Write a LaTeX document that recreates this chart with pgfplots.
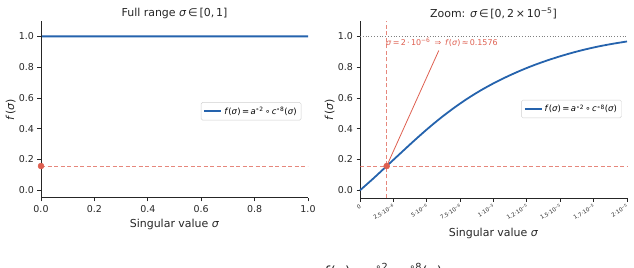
\documentclass[border=0pt]{standalone}
\usepackage{fontspec}
\setmainfont{DejaVu Sans}
\usepackage{pgfplots}
\pgfplotsset{compat=1.18}

\definecolor{curveblue}{RGB}{37,99,173}
\definecolor{markred}{RGB}{222,95,80}
\definecolor{spine}{RGB}{38,38,38}

\newcommand{\sig}{\textit{σ}}
\newcommand{\fsig}{\textit{f}(\sig)}
\newcommand{\comp}{\fsig\,=\,\textit{a}\textsuperscript{∘2}\,∘\,\textit{c}\textsuperscript{∘8}(\sig)}

% shared look of both panels
\pgfplotsset{
  panel/.style={
    scale only axis, width=267bp, height=177bp,
    axis lines=left, axis line style={-, spine, line width=0.8bp},
    tick align=outside, major tick length=3.5bp,
    tick style={spine, line width=0.8bp},
    ymin=-0.05, ymax=1.1, ytick={0,0.2,0.4,0.6,0.8,1.0},
    /pgf/number format/assume math mode=true,
    ticklabel style={font=\fontsize{9.5}{11}\selectfont, text=spine},
    yticklabel style={/pgf/number format/.cd, fixed, fixed zerofill, precision=1},
    label style={font=\fontsize{11}{13}\selectfont, text=spine},
    ylabel style={yshift=-3.5bp},
    title style={font=\fontsize{11}{13}\selectfont, text=spine, yshift=-7bp},
    ylabel={\fsig},
    xlabel={Singular value \sig},
    legend style={draw=black!18, rounded corners=1.5pt,
      font=\fontsize{8.5}{10}\selectfont, anchor=east, inner sep=2.5pt},
    legend cell align=left,
  },
  curve/.style={curveblue, line width=1.8bp},
  guide/.style={markred, opacity=0.75, dash pattern=on 4bp off 2.5bp, line width=1bp, forget plot},
  unity/.style={gray, dotted, line width=0.8bp, forget plot},
  hit/.style={only marks, mark=*, mark size=3bp, markred,
    mark options={draw=markred, fill=markred}, forget plot},
}

\begin{document}
\begin{tikzpicture}
\useasboundingbox (0,0) rectangle (634bp,268bp);

% full range: the steep rise at the origin sits under the left spine
\begin{axis}[panel, axis on top, at={(41bp,70bp)}, anchor=south west,
  xmin=0, xmax=1, xtick={0,0.2,0.4,0.6,0.8,1.0},
  xticklabel style={/pgf/number format/.cd, fixed, fixed zerofill, precision=1},
  axis line style={line width=1bp},
  title={Full range \sig\,∈\,[0,\,1]},
  legend style={at={(0.975,0.49)}}]
\addplot[unity] coordinates {(0,1) (1,1)};
\addplot[guide] coordinates {(0,0.1576) (1,0.1576)};
\addplot[curve] coordinates {(0,0) (0.000002,0.1576) (0.00001,0.695) (0.00002,0.967) (0.0001,1) (1,1)};
\addlegendentry{\comp}
\addplot[hit] coordinates {(0.000002,0.1576)};
\end{axis}

% zoom near the origin
\begin{axis}[panel, clip=false, at={(360bp,70bp)}, anchor=south west,
  xmin=0, xmax=0.00002, scaled x ticks=false,
  xtick={0,0.0000025,0.000005,0.0000075,0.00001,0.0000125,0.000015,0.0000175,0.00002},
  xticklabels={0,
    2.5·10\textsuperscript{−6}, 5·10\textsuperscript{−6}, 7.5·10\textsuperscript{−6},
    1·10\textsuperscript{−5}, 1.2·10\textsuperscript{−5}, 1.5·10\textsuperscript{−5},
    1.7·10\textsuperscript{−5}, 2·10\textsuperscript{−5}},
  xticklabel style={font=\fontsize{5.5}{6}\selectfont, rotate=30, anchor=north east, inner sep=1.5bp},
  xlabel style={yshift=-3bp},
  title={Zoom: \sig\,∈\,[0,\,2\,×\,10\textsuperscript{−5}]},
  legend style={at={(0.98,0.503)}}]
\addplot[unity] coordinates {(0,1) (0.00002,1)};
\addplot[guide] coordinates {(0,0.1576) (0.00002,0.1576)};
\addplot[guide] coordinates {(0.000002,-0.05) (0.000002,1.1)};
\addplot[curve, smooth] coordinates {
  (0,0) (0.000001,0.077) (0.000002,0.1576) (0.000003,0.238) (0.000004,0.318)
  (0.000005,0.395) (0.000006,0.467) (0.000007,0.533) (0.000008,0.593)
  (0.000009,0.647) (0.00001,0.695) (0.000011,0.738) (0.000012,0.777)
  (0.000013,0.812) (0.000014,0.843) (0.000015,0.871) (0.000016,0.896)
  (0.000017,0.918) (0.000018,0.937) (0.000019,0.953) (0.00002,0.967)};
\addlegendentry{\comp}
\addplot[markred, line width=0.8bp, forget plot] coordinates {(0.000002,0.1576) (0.0000059,0.908)};
\addplot[hit] coordinates {(0.000002,0.1576)};
\node[anchor=west, text=markred, font=\fontsize{8}{9}\selectfont, inner sep=0pt]
  at (axis cs:0.00000195,0.961)
  {\sig\,=\,2\,·\,10\textsuperscript{−6}\enspace⇒\enspace\fsig\,≈\,0.1576};
\end{axis}

% figure caption, mostly below the page edge
\node[anchor=north, font=\fontsize{14}{16}\selectfont, text=spine, inner sep=0pt]
  at (383bp,4.5bp) {\comp};
\end{tikzpicture}
\end{document}
